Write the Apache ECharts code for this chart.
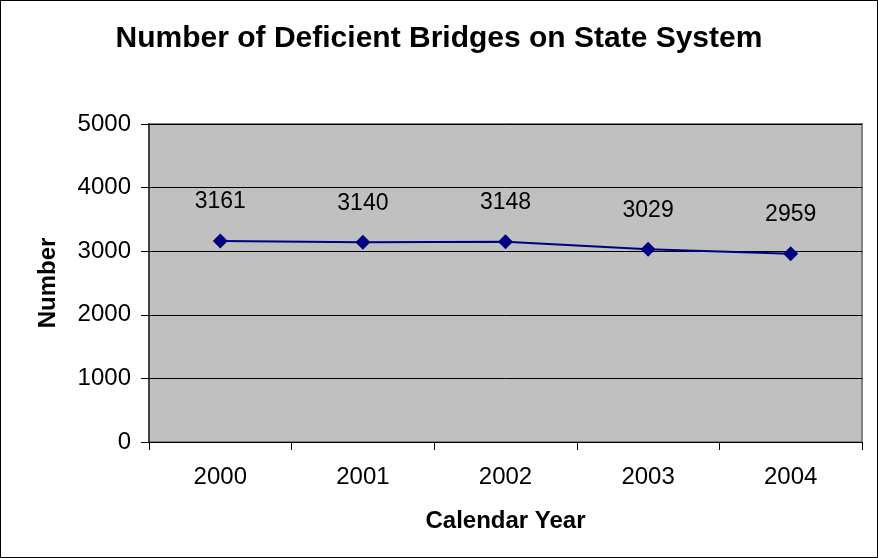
<!DOCTYPE html>
<html><head><meta charset="utf-8">
<script src="https://cdn.jsdelivr.net/npm/echarts@6/dist/echarts.min.js"></script>
<style>html,body{margin:0;padding:0;background:#fff}#c{width:878px;height:558px}
#f{position:absolute;left:0;top:0;width:876px;height:556px;border:1px solid #000;pointer-events:none}</style>
</head><body><div id="c"></div><div id="f"></div>
<script>
const years = ['2000','2001','2002','2003','2004'];
const deficient = [3161, 3140, 3148, 3029, 2959];
const yTicks = [0, 1000, 2000, 3000, 4000, 5000];

const F = 'Liberation Sans, Arial';
const chart = echarts.init(document.getElementById('c'), null, {renderer:'canvas'});
chart.setOption({
  animation:false,
  backgroundColor:'#fff',
  title:{text:'Number of Deficient Bridges on State System', left:'center', top:19,
    textStyle:{fontFamily:F, fontWeight:'bold', fontSize:30, color:'#000'}},
  grid:{left:149, right:16, top:124, bottom:116, show:true, backgroundColor:'#C0C0C0', borderColor:'#808080', borderWidth:2},
  xAxis:{type:'category', data:years, boundaryGap:true,
    name:'Calendar Year', nameLocation:'middle', nameGap:67,
    nameTextStyle:{fontFamily:F, fontWeight:'bold', fontSize:24, color:'#000'},
    axisLine:{lineStyle:{color:'#000', width:1}},
    axisTick:{show:true, length:8, lineStyle:{color:'#000'}},
    axisLabel:{fontFamily:F, fontSize:24, color:'#000', margin:23}},
  yAxis:{type:'value', min:yTicks[0], max:yTicks[yTicks.length-1], interval:1000,
    name:'Number', nameLocation:'middle', nameGap:89, nameRotate:90,
    nameTextStyle:{fontFamily:F, fontWeight:'bold', fontSize:24, color:'#000'},
    axisLine:{show:true, lineStyle:{color:'#404040', width:2}},
    axisTick:{show:true, length:8, lineStyle:{color:'#000'}},
    axisLabel:{fontFamily:F, fontSize:24, color:'#000', margin:18, formatter:v=>String(v)},
    splitLine:{show:true, lineStyle:{color:'#000', width:1}}},
  series:[{type:'line', data:deficient, symbol:'diamond', symbolSize:15,
    lineStyle:{color:'#000080', width:2}, itemStyle:{color:'#000080'},
    label:{show:true, position:'top', distance:20, fontFamily:F, fontSize:23, color:'#000'}}]
});
</script></body></html>
